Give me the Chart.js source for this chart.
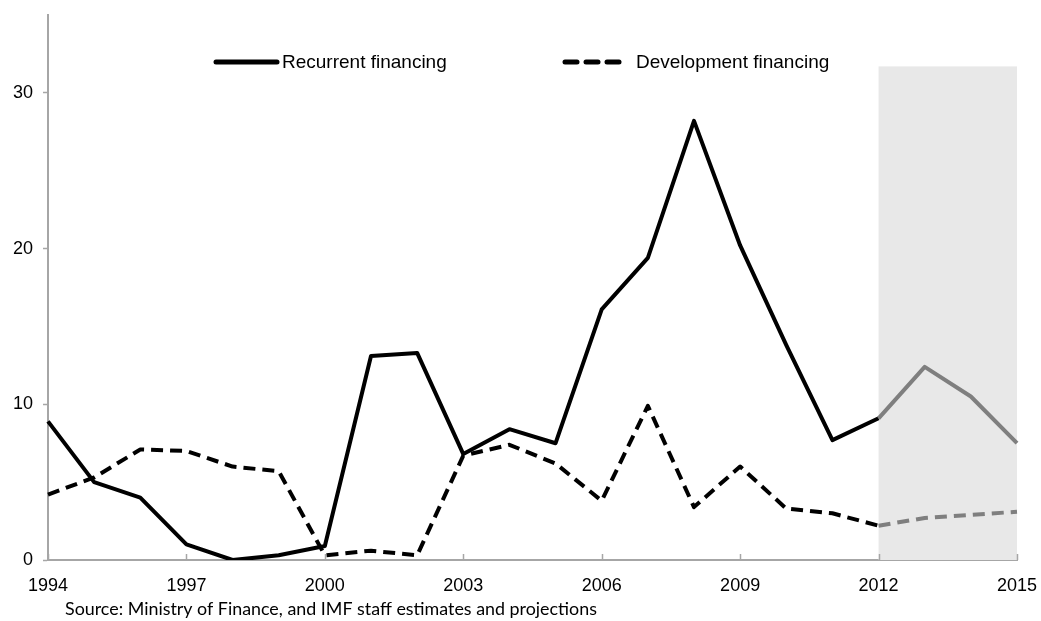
<!DOCTYPE html>
<html>
<head>
<meta charset="utf-8">
<script src="https://cdn.jsdelivr.net/npm/chart.js@4.4.1/dist/chart.umd.min.js"></script>
<style>
  html, body { margin: 0; padding: 0; background: #ffffff; }
  #wrap { width: 1041px; height: 621px; position: relative; }
</style>
</head>
<body>
<div id="wrap"><canvas id="c" width="1041" height="621"></canvas></div>
<script>
// ---- data ----
const years = [1994, 1995, 1996, 1997, 1998, 1999, 2000, 2001, 2002, 2003, 2004,
               2005, 2006, 2007, 2008, 2009, 2010, 2011, 2012, 2013, 2014, 2015];
const recurrent = [8.9, 5.0, 4.0, 1.0, 0.0, 0.3, 0.9, 13.1, 13.3, 6.8, 8.4,
                   7.5, 16.1, 19.4, 28.2, 20.2, 13.8, 7.7, 9.1, 12.4, 10.5, 7.5];
const development = [4.2, 5.3, 7.1, 7.0, 6.0, 5.7, 0.3, 0.6, 0.3, 6.7, 7.4,
                     6.2, 3.8, 9.9, 3.4, 6.0, 3.3, 3.0, 2.2, 2.7, 2.9, 3.1];
const seriesNames = ['Recurrent financing', 'Development financing'];
const xTickLabels = [1994, 1997, 2000, 2003, 2006, 2009, 2012, 2015];
const yTickValues = [0, 10, 20, 30];
const yMin = 0, yMax = 35;
const projectionStart = 2012;
const shadeFrom = 2012, shadeTo = 2015, shadeTop = 31.7;
const sourceText = 'Source: Ministry of Finance, and IMF staff estimates and projections';

// ---- styles ----
const BLACK = '#000000';
const GRAY = '#7f7f7f';
const AXIS = '#a6a6a6';
const SHADE = '#e8e8e8';
const FONT = '"Liberation Sans", Arial, sans-serif';

const projIdx = years.indexOf(projectionStart);
const segColor = ctx => (ctx.p0DataIndex >= projIdx ? GRAY : BLACK);

const shadePlugin = {
  id: 'shade',
  beforeDatasetsDraw(chart) {
    const x = chart.scales.x, y = chart.scales.y, ctx = chart.ctx;
    const x0 = x.getPixelForValue(years.indexOf(shadeFrom));
    const x1 = x.getPixelForValue(years.indexOf(shadeTo));
    const y0 = y.getPixelForValue(shadeTop);
    const y1 = y.getPixelForValue(0);
    ctx.save();
    ctx.fillStyle = SHADE;
    ctx.fillRect(x0, y0, x1 - x0, y1 - y0);
    ctx.restore();
  }
};

const decorPlugin = {
  id: 'decor',
  afterDraw(chart) {
    const ctx = chart.ctx, x = chart.scales.x, y = chart.scales.y;
    const base = y.getPixelForValue(0);
    ctx.save();
    // inside x tick marks
    ctx.strokeStyle = AXIS;
    ctx.lineWidth = 1.5;
    xTickLabels.forEach(v => {
      const px = Math.round(x.getPixelForValue(years.indexOf(v))) + 0.5;
      ctx.beginPath();
      ctx.moveTo(px, base);
      ctx.lineTo(px, base - 6);
      ctx.stroke();
    });
    // legend
    const ly = 62;
    ctx.lineWidth = 5;
    ctx.strokeStyle = BLACK;
    ctx.lineCap = 'round';
    ctx.beginPath();
    ctx.moveTo(216, ly); ctx.lineTo(277, ly);
    ctx.stroke();
    for (let i = 0; i < 3; i++) {
      const sx = 565 + i * 21;
      ctx.beginPath();
      ctx.moveTo(sx, ly); ctx.lineTo(sx + 12, ly);
      ctx.stroke();
    }
    ctx.fillStyle = BLACK;
    ctx.font = '19px ' + FONT;
    ctx.textBaseline = 'middle';
    ctx.textAlign = 'left';
    ctx.fillText(seriesNames[0], 282, ly + 1, 172);
    ctx.fillText(seriesNames[1], 636, ly + 1, 194);
    // source
    let fs = 16;
    ctx.font = fs + 'px Lato, "Open Sans", sans-serif';
    const w = ctx.measureText(sourceText).width;
    fs = fs * 532 / w;
    ctx.font = fs.toFixed(2) + 'px Lato, "Open Sans", sans-serif';
    ctx.textBaseline = 'alphabetic';
    ctx.fillStyle = '#000000';
    ctx.fillText(sourceText, 65, 615);
    ctx.restore();
  }
};

new Chart(document.getElementById('c'), {
  type: 'line',
  data: {
    labels: years,
    datasets: [
      {
        label: seriesNames[0],
        data: recurrent,
        borderColor: BLACK,
        borderWidth: 4,
        pointRadius: 0,
        tension: 0,
        borderJoinStyle: 'round',
        segment: { borderColor: segColor }
      },
      {
        label: seriesNames[1],
        data: development,
        borderColor: BLACK,
        borderWidth: 4,
        borderDash: [12, 7],
        pointRadius: 0,
        tension: 0,
        borderJoinStyle: 'round',
        segment: { borderColor: segColor }
      }
    ]
  },
  options: {
    responsive: false,
    animation: false,
    layout: { padding: { top: 15, right: 24, left: 0, bottom: 0 } },
    plugins: { legend: { display: false }, tooltip: { enabled: false } },
    scales: {
      x: {
        type: 'category',
        offset: false,
        grid: { display: true, drawOnChartArea: false, drawTicks: false },
        border: { display: true, color: AXIS, width: 2 },
        ticks: {
          autoSkip: false,
          maxRotation: 0,
          minRotation: 0,
          padding: 15,
          color: BLACK,
          font: { family: FONT, size: 18 },
          callback: function (value, index) {
            const yr = years[index];
            return xTickLabels.includes(yr) ? String(yr) : '';
          }
        },
        afterFit: s => { s.height = 61; s.paddingLeft = 0; s.paddingRight = 0; }
      },
      y: {
        min: yMin,
        max: yMax,
        afterBuildTicks: s => { s.ticks = yTickValues.map(v => ({ value: v })); },
        grid: { display: true, drawOnChartArea: false, drawTicks: true, tickLength: 5, tickColor: AXIS, tickWidth: 1.5 },
        border: { display: true, color: AXIS, width: 2 },
        ticks: {
          padding: 10,
          color: BLACK,
          font: { family: FONT, size: 18 }
        },
        afterFit: s => { s.width = 48; s.paddingTop = 0; s.paddingBottom = 0; }
      }
    }
  },
  plugins: [shadePlugin, decorPlugin]
});
</script>
</body>
</html>
